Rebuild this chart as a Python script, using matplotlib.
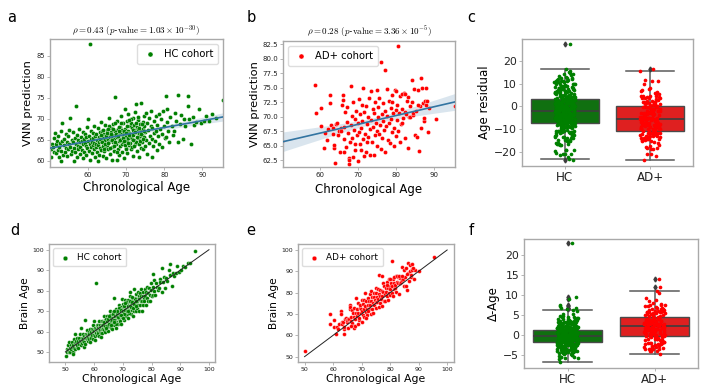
import numpy as np
import matplotlib
matplotlib.use('Agg')
import matplotlib.pyplot as plt

plt.rcParams['font.family'] = ['DejaVu Sans']
plt.rcParams['mathtext.fontset'] = 'cm'

# ---------------- data ----------------
hc_age = [
    50.2, 50.4, 50.6, 50.8, 51.0, 51.1, 51.3, 51.5, 51.7, 51.9, 52.0, 52.2, 52.3, 52.5, 52.7, 52.8, 52.9,
    53.0, 53.2, 53.3, 53.4, 53.6, 53.8, 53.9, 54.1, 54.2, 54.4, 54.5, 54.7, 54.8, 55.0, 55.1, 55.3, 55.4, 55.6, 55.8, 55.9,
    56.0, 56.1, 56.2, 56.4, 56.5, 56.6, 56.8, 56.9, 57.0, 57.1, 57.3, 57.4, 57.5, 57.7, 57.8, 57.9, 58.0, 58.2, 58.3, 58.4, 58.6, 58.7, 58.8, 58.9,
    59.0, 59.1, 59.2, 59.4, 59.5, 59.6, 59.7, 59.8, 60.0, 60.1, 60.2, 60.3, 60.4, 60.5, 60.6, 60.7, 60.8, 60.9, 61.0, 61.1, 61.2, 61.3, 61.4, 61.5, 61.6, 61.7, 61.8, 61.9,
    62.0, 62.1, 62.2, 62.3, 62.4, 62.5, 62.6, 62.7, 62.8, 62.9, 63.0, 63.1, 63.2, 63.3, 63.4, 63.5, 63.6, 63.7, 63.8, 63.9, 64.0, 64.1, 64.2, 64.3, 64.4, 64.5, 64.6, 64.7, 64.8, 64.9,
    65.0, 65.1, 65.2, 65.3, 65.4, 65.5, 65.6, 65.7, 65.8, 65.9, 66.0, 66.1, 66.2, 66.3, 66.4, 66.5, 66.6, 66.7, 66.8, 66.9, 67.0, 67.1, 67.2, 67.3, 67.4, 67.5, 67.6, 67.7, 67.8, 67.9,
    68.0, 68.1, 68.2, 68.3, 68.4, 68.5, 68.6, 68.7, 68.8, 68.9, 69.0, 69.1, 69.2, 69.3, 69.4, 69.5, 69.6, 69.7, 69.8, 69.9, 70.0, 70.1, 70.2, 70.3, 70.4, 70.5, 70.6, 70.7, 70.8, 70.9,
    71.0, 71.1, 71.2, 71.3, 71.4, 71.5, 71.6, 71.7, 71.8, 71.9, 72.0, 72.1, 72.2, 72.3, 72.4, 72.5, 72.6, 72.7, 72.8, 72.9, 73.0, 73.1, 73.2, 73.3, 73.4, 73.5, 73.6, 73.7, 73.8, 73.9,
    74.0, 74.1, 74.2, 74.3, 74.4, 74.5, 74.6, 74.7, 74.8, 74.9, 75.0, 75.2, 75.3, 75.5, 75.6, 75.8, 75.9, 76.1, 76.2, 76.4, 76.5, 76.7, 76.8, 76.9,
    77.0, 77.2, 77.3, 77.5, 77.7, 77.8, 78.0, 78.2, 78.3, 78.5, 78.7, 78.9, 79.1, 79.3, 79.5, 79.7, 79.9, 80.1, 80.4, 80.4, 80.6, 80.8,
    81.0, 81.3, 81.6, 81.9, 82.2, 82.5, 82.8, 83.1, 83.5, 83.7, 84.0, 84.3, 84.8, 85.2, 85.4,
    86.1, 86.3, 86.6, 87.1, 87.5, 87.9, 88.4, 89.0, 89.6, 90.4, 91.0, 91.8, 92.6, 93.5, 95.3,
    63.15, 63.45, 63.75, 64.05, 64.35, 64.65, 64.95, 65.15, 65.45, 65.75, 66.05, 66.35, 66.65, 66.95, 67.25,
    67.55, 67.85, 68.15, 68.45, 68.75, 69.05, 69.35, 69.65, 69.95, 70.25, 70.55, 70.85, 71.15, 71.45, 71.75,
    72.05, 72.35, 72.65, 72.95, 73.25, 73.55, 73.85, 74.15, 74.45, 74.75, 65.3, 66.8, 68.0, 69.5, 70.7,
    71.9, 73.1, 64.2, 67.0, 70.0,
]
hc_pred = [
    61.0, 62.8, 64.1, 63.2, 65.4, 62.1, 66.6, 63.9, 61.8, 64.7, 62.6, 65.9, 63.4, 60.9, 64.2, 59.9, 67.1,
    62.3, 64.8, 68.9, 61.4, 63.7, 65.2, 62.0, 66.3, 63.1, 64.5, 61.2, 65.8, 62.7, 64.0, 67.4, 70.1, 63.3, 61.6, 65.0, 62.4,
    64.6, 66.8, 63.0, 59.9, 65.5, 62.2, 73.1, 64.1, 61.0, 66.1, 63.6, 65.0, 62.9, 67.5, 64.4, 61.7, 63.2, 65.7, 62.5, 64.8, 66.9, 60.6, 63.9, 65.3,
    62.1, 64.2, 66.4, 63.5, 61.3, 65.6, 68.0, 63.0, 64.7, 69.9, 62.4, 66.0, 60.2, 87.9, 64.0, 65.2, 63.3, 67.2, 61.9, 64.6, 66.7, 63.7, 65.4, 62.8, 68.4, 64.3, 60.8, 65.9,
    63.4, 66.3, 64.1, 62.0, 65.0, 59.9, 67.8, 63.8, 65.6, 61.4, 64.5, 66.9, 63.1, 69.3, 64.8, 62.6, 65.3, 67.0, 63.6, 61.1, 65.9, 64.2, 66.5, 62.3, 68.6, 64.9, 63.0, 66.1, 60.7, 65.4,
    63.8, 67.3, 65.0, 62.7, 66.4, 64.4, 70.2, 65.7, 61.6, 67.9, 64.9, 66.8, 63.3, 65.5, 60.3, 68.8, 64.6, 66.2, 62.4, 65.2, 75.3, 67.1, 63.9, 66.0, 64.1, 60.2, 69.5, 65.6, 62.9, 67.6,
    64.7, 66.6, 61.5, 68.1, 65.3, 63.5, 70.6, 66.9, 64.0, 67.4, 62.2, 65.8, 68.9, 64.4, 66.3, 60.6, 72.4, 65.1, 67.7, 63.1, 66.0, 69.6, 64.8, 61.9, 67.0, 65.5, 71.2, 63.8, 66.7, 68.3,
    64.2, 66.4, 62.7, 69.0, 65.7, 67.8, 63.4, 70.3, 66.1, 61.2, 68.5, 65.0, 67.3, 63.9, 71.6, 73.6, 66.8, 64.6, 68.0, 62.4, 67.5, 65.4, 69.7, 64.0, 66.5, 60.9, 68.7, 65.8, 63.0, 67.1,
    73.8, 66.2, 64.5, 69.2, 67.6, 62.8, 70.8, 65.6, 68.4, 63.6, 66.9, 71.4, 65.0, 68.9, 61.7, 67.3, 64.3, 70.1, 66.0, 68.2, 71.9, 60.8, 65.3, 67.9,
    63.5, 69.5, 66.6, 64.8, 70.7, 67.2, 62.6, 68.6, 65.9, 71.1, 64.1, 67.7, 69.9, 66.3, 63.2, 71.9, 68.2, 65.4, 75.5, 65.7, 69.2, 72.3,
    67.0, 64.6, 70.4, 68.3, 66.2, 67.1, 71.5, 69.4, 64.4, 75.8, 68.8, 70.9, 65.3, 69.9, 68.3,
    73.1, 75.5, 70.0, 64.1, 70.4, 68.6, 69.3, 72.4, 68.9, 69.5, 70.6, 69.6, 71.1, 70.1, 74.5,
    65.1, 66.2, 64.4, 67.4, 63.9, 65.8, 66.7, 64.2, 68.3, 63.1, 66.3, 65.0, 67.7, 64.5, 66.4,
    62.2, 65.9, 67.0, 64.9, 69.0, 65.4, 67.2, 63.7, 66.6, 68.4, 64.3, 66.2, 70.0, 65.3, 67.4,
    63.6, 66.9, 69.1, 65.6, 67.9, 64.7, 66.3, 68.8, 65.2, 67.1, 67.6, 63.6, 68.0, 64.8, 69.8,
    64.9, 70.5, 62.8, 68.9, 62.9,
]
ad_age = [
    50.1, 58.8, 59.0, 60.3, 60.3, 61.0, 61.4, 61.8, 62.2, 62.7, 62.7,
    63.0, 63.3, 63.5, 63.8, 63.8, 64.0, 64.2, 64.5, 64.8, 65.0, 65.2, 65.4, 65.6, 65.8, 66.0, 66.0, 66.2, 66.4, 66.6,
    66.8, 67.0, 67.2, 67.4, 67.5, 67.5, 67.7, 67.8, 68.0, 68.1, 68.3, 68.5, 68.7, 68.9, 69.1, 69.3, 69.5, 69.7, 69.9,
    70.0, 70.1, 70.3, 70.5, 70.6, 70.8, 71.0, 71.1, 71.3, 71.4, 71.6, 71.8, 72.0, 72.1, 72.3, 72.5, 72.7, 72.9,
    73.0, 73.2, 73.3, 73.4, 73.6, 73.8, 73.9, 74.1, 74.2, 74.4, 74.5, 74.7, 74.9, 74.9,
    75.0, 75.2, 75.3, 75.5, 75.6, 75.8, 76.0, 76.0, 76.2, 76.3, 76.5, 76.6, 76.8, 77.0, 77.1, 77.1, 77.3,
    77.5, 77.6, 77.8, 78.0, 78.1, 78.3, 78.5, 78.6, 78.8, 79.0, 79.1, 79.3, 79.5, 79.7, 79.8, 79.9,
    80.1, 80.3, 80.5, 80.5, 80.7, 80.9, 81.1, 81.2, 81.4, 81.6, 81.8, 82.0, 82.2, 82.4, 82.6, 82.8, 83.0,
    83.3, 83.5, 83.7, 84.1, 84.3, 84.5, 84.7, 84.9,
    85.2, 85.4, 85.6, 86.0, 86.2, 86.4, 86.6, 86.9, 87.4, 87.4, 87.5, 87.7, 88.2, 88.6, 90.3, 95.3,
    81.5, 82.3, 83.0, 84.0, 85.8, 86.8, 87.8, 88.0, 79.0, 80.0,
    66.2, 68.6, 69.2, 70.7, 71.5, 72.3,
]
ad_pred = [
    65.8, 75.5, 70.7, 71.5, 68.4, 64.6, 67.2, 66.0, 67.9, 73.8, 72.4,
    68.6, 67.0, 68.1, 64.6, 65.2, 62.0, 68.8, 68.9, 66.8, 67.6, 63.9, 68.0, 67.5, 72.0, 73.7, 72.9, 68.2, 66.1, 70.8,
    64.8, 69.1, 71.6, 67.2, 62.9, 61.9, 62.6, 65.7, 68.5, 75.3, 70.2, 66.4, 72.5, 67.8, 64.2, 69.7, 71.0, 66.9, 68.9,
    62.4, 73.0, 67.4, 70.4, 65.3, 68.1, 72.1, 69.3, 75.0, 66.2, 70.9, 67.0, 64.0, 71.9, 68.7, 66.6, 70.0, 73.3,
    67.9, 63.4, 69.5, 74.4, 65.6, 71.3, 68.3, 63.4, 70.7, 66.9, 72.6, 69.0, 74.6, 67.6,
    65.0, 71.7, 69.9, 67.1, 73.2, 68.6, 79.4, 64.5, 70.5, 66.4, 72.3, 69.2, 67.7, 71.0, 78.0, 63.9, 68.4,
    74.7, 70.2, 66.0, 72.8, 68.9, 65.4, 71.5, 69.6, 67.3, 73.7, 70.7, 64.9, 68.0, 74.6, 71.2, 66.7,
    69.4, 72.0, 82.2, 67.5, 70.6, 65.6, 73.5, 68.8, 71.4, 69.0, 69.8, 74.1, 66.3, 70.9, 70.4, 72.7, 64.6,
    69.9, 71.8, 69.9, 76.4, 70.3, 70.6, 74.8, 66.9,
    71.0, 66.5, 74.6, 64.1, 71.9, 76.6, 68.1, 72.3, 69.2, 69.8, 72.8, 72.1, 67.3, 71.5, 69.6, 71.9,
    73.9, 74.0, 73.4, 72.6, 72.0, 75.0, 75.0, 72.7, 72.5, 74.5,
    64.0, 63.0, 65.3, 64.2, 63.2, 65.6,
]
groups = ['HC', 'AD+']
legend_labels = ['HC cohort', 'AD+ cohort']
titles = [r'$\rho = 0.43$ $(p$-$\mathrm{value} = 1.03 \times 10^{-30})$',
          r'$\rho = 0.28$ $(p$-$\mathrm{value} = 3.36 \times 10^{-5})$']

hc_age = np.array(hc_age); hc_pred = np.array(hc_pred)
ad_age = np.array(ad_age); ad_pred = np.array(ad_pred)

GREEN = '#008000'
RED = '#ff0000'
BOX_GREEN = '#107010'
BOX_RED = '#df2020'
LINE = '#3274a1'
SPINE = '#a9a9a9'
W, H = 701, 387

fig = plt.figure(figsize=(7.01, 3.87), dpi=100)


def add_ax(l, t, r, b):
    return fig.add_axes([l / W, 1 - b / H, (r - l) / W, (b - t) / H])


def style(ax, tsize):
    for s in ax.spines.values():
        s.set_color(SPINE)
        s.set_linewidth(1.0)
    ax.tick_params(labelsize=tsize, length=2, width=0.6, color=SPINE,
                   labelcolor='#222222', pad=1.5)


def regline(ax, x, y, xlim):
    b1, b0 = np.polyfit(x, y, 1)
    xs = np.linspace(xlim[0], xlim[1], 100)
    yhat = b0 + b1 * xs
    n = len(x)
    resid = y - (b0 + b1 * x)
    s = np.sqrt(np.sum(resid ** 2) / (n - 2))
    sxx = np.sum((x - x.mean()) ** 2)
    se = s * np.sqrt(1 / n + (xs - x.mean()) ** 2 / sxx)
    ax.fill_between(xs, yhat - 1.96 * se, yhat + 1.96 * se, color=LINE,
                    alpha=0.18, lw=0, zorder=1)
    ax.plot(xs, yhat, color=LINE, lw=1.2, zorder=3)
    return b0, b1


# HC regression (used for bias-corrected brain age)
hb1, hb0 = np.polyfit(hc_age, hc_pred, 1)
hc_delta = hc_pred - (hb0 + hb1 * hc_age)
ad_delta = ad_pred - (hb0 + hb1 * ad_age)
hc_brain = hc_age + hc_delta
ad_brain = ad_age + ad_delta

# ---------------- panel a ----------------
ax = add_ax(49.5, 38.7, 223, 166.7)
xl = (hc_age.min() - 0.3, hc_age.max() + 0.1)
ax.scatter(hc_age, hc_pred, s=9, color=GREEN, edgecolor='white', linewidth=0.25,
           zorder=2, label=legend_labels[0])
regline(ax, hc_age, hc_pred, xl)
ax.set_xlim(*xl)
ax.set_ylim(58.6, 89.1)
ax.set_xticks([60, 70, 80, 90])
ax.set_yticks([60, 65, 70, 75, 80, 85])
style(ax, 4.8)
ax.set_xlabel('Chronological Age', fontsize=8.5, labelpad=2.5)
ax.set_ylabel('VNN prediction', fontsize=8.2, labelpad=2)
ax.set_title(titles[0], fontsize=6.5, pad=3)
ax.legend(loc='upper right', fontsize=7.2, handletextpad=0.6, borderpad=0.5,
          markerscale=1.2, framealpha=1, edgecolor='#dddddd', handlelength=1.6)

# ---------------- panel b ----------------
ax = add_ax(283, 40.7, 455, 166.7)
xl = (ad_age.min() + 0.2, ad_age.max() + 0.1)
ax.scatter(ad_age, ad_pred, s=9, color=RED, edgecolor='white', linewidth=0.25,
           zorder=2, label=legend_labels[1])
regline(ax, ad_age, ad_pred, xl)
ax.set_xlim(*xl)
ax.set_ylim(61.4, 83.1)
ax.set_xticks([60, 70, 80, 90])
ax.set_yticks([62.5, 65, 67.5, 70, 72.5, 75, 77.5, 80, 82.5])
ax.set_yticklabels(['%.1f' % v for v in [62.5, 65, 67.5, 70, 72.5, 75, 77.5, 80, 82.5]])
style(ax, 5.0)
ax.set_xlabel('Chronological Age', fontsize=8.5, labelpad=4)
ax.set_ylabel('VNN prediction', fontsize=8.2, labelpad=2)
ax.set_title(titles[1], fontsize=6.5, pad=4)
ax.legend(loc='upper left', fontsize=7.2, handletextpad=0.6, borderpad=0.5,
          markerscale=1.2, framealpha=1, edgecolor='#dddddd', handlelength=1.6)


# ---------------- box + strip helper ----------------
def boxstrip(ax, data, pcolors, bcolors):
    bp = ax.boxplot(data, positions=[0, 1], widths=0.8, patch_artist=True,
                    whis=1.5, capwidths=0.56,
                    medianprops=dict(color='#3d3d3d', lw=1.2),
                    whiskerprops=dict(color='#5a5a5a', lw=1.1),
                    capprops=dict(color='#5a5a5a', lw=1.1),
                    boxprops=dict(edgecolor='#4a4a4a', lw=1.0),
                    flierprops=dict(marker='d', markerfacecolor='#3d3d3d',
                                    markeredgecolor='#3d3d3d', markersize=2.5))
    for patch, c in zip(bp['boxes'], bcolors):
        patch.set_facecolor(c)
    for i, (g, c) in enumerate(zip(data, pcolors)):
        n = len(g)
        jit = ((np.arange(n) * 0.6180339887) % 1 - 0.5) * 0.24
        ax.scatter(i + jit, g, s=7, color=c, lw=0, zorder=4)
    ax.set_xlim(-0.5, 1.5)
    ax.set_xticks([0, 1])
    ax.set_xticklabels(groups)


# ---------------- panel c ----------------
ax = add_ax(522, 39, 693, 166)
boxstrip(ax, [hc_pred - hc_age, ad_pred - ad_age], [GREEN, RED], [BOX_GREEN, BOX_RED])
ax.set_ylim(-26.2, 29.7)
ax.set_yticks([-20, -10, 0, 10, 20])
style(ax, 7.8)
ax.tick_params(axis='x', labelsize=8.6)
ax.set_ylabel('Age residual', fontsize=8.5, labelpad=2)

# ---------------- panel d ----------------
ax = add_ax(49, 244, 215, 362)
ax.scatter(hc_age, hc_brain, s=8, color=GREEN, edgecolor='white', linewidth=0.25,
           zorder=2, label=legend_labels[0])
ax.plot([50, 100], [50, 100], color='#222222', lw=0.7, zorder=3)
ax.set_xlim(44.3, 102.1)
ax.set_ylim(45.1, 102.8)
ax.set_xticks([50, 60, 70, 80, 90, 100])
ax.set_yticks([50, 60, 70, 80, 90, 100])
style(ax, 4.5)
ax.set_xlabel('Chronological Age', fontsize=7.8, labelpad=1.5)
ax.set_ylabel('Brain Age', fontsize=7.6, labelpad=2)
ax.legend(loc='upper left', fontsize=6.4, handletextpad=0.6, borderpad=0.5,
          markerscale=1.2, framealpha=1, edgecolor='#dddddd', handlelength=1.6)

# ---------------- panel e ----------------
ax = add_ax(298, 244, 454, 362)
ax.scatter(ad_age, ad_brain, s=8, color=RED, edgecolor='white', linewidth=0.25,
           zorder=2, label=legend_labels[1])
ax.plot([50, 100], [50, 100], color='#222222', lw=0.7, zorder=3)
ax.set_xlim(47.7, 102.4)
ax.set_ylim(47.5, 102.8)
ax.set_xticks([50, 60, 70, 80, 90, 100])
ax.set_yticks([50, 60, 70, 80, 90, 100])
style(ax, 4.5)
ax.set_xlabel('Chronological Age', fontsize=7.8, labelpad=1.5)
ax.set_ylabel('Brain Age', fontsize=7.6, labelpad=2)
ax.legend(loc='upper left', fontsize=6.4, handletextpad=0.6, borderpad=0.5,
          markerscale=1.2, framealpha=1, edgecolor='#dddddd', handlelength=1.6)

# ---------------- panel f ----------------
ax = add_ax(524, 239, 698, 368)
boxstrip(ax, [hc_delta, ad_delta], [GREEN, RED], [BOX_GREEN, BOX_RED])
ax.set_ylim(-8.2, 24.1)
ax.set_yticks([-5, 0, 5, 10, 15, 20])
style(ax, 7.8)
ax.tick_params(axis='x', labelsize=8.6)
ax.set_ylabel('Δ-Age', fontsize=8.5, labelpad=2)

# ---------------- panel letters ----------------
for letter, (x, y) in zip('abcdef', [(12, 18), (251, 18), (471, 18),
                                     (15, 231), (251, 231), (471, 231)]):
    fig.text(x / W, 1 - y / H, letter, fontsize=10.5, ha='center', va='center')

fig.savefig('out.png', dpi=100)
